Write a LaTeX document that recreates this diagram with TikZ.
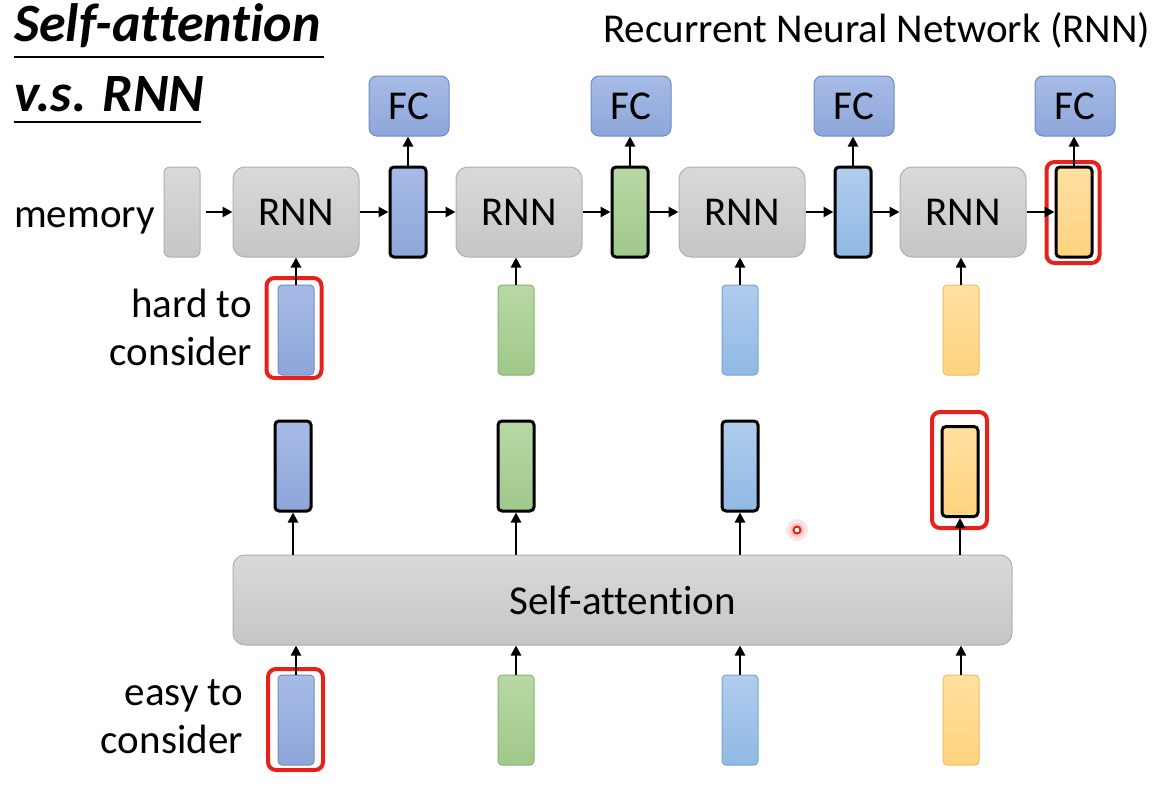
\documentclass[tikz,border=0pt]{standalone}
\usepackage{fontspec}
\setmainfont{Carlito}[Ligatures={NoCommon}]
\usetikzlibrary{arrows.meta}
\definecolor{bluT}{HTML}{A7BBE5}\definecolor{bluB}{HTML}{8DA6DA}\definecolor{bluD}{HTML}{6E8CC8}
\definecolor{grnT}{HTML}{B8D8A4}\definecolor{grnB}{HTML}{A0C88A}\definecolor{grnD}{HTML}{86B36E}
\definecolor{lbT}{HTML}{B0CDEC}\definecolor{lbB}{HTML}{90B9E5}\definecolor{lbD}{HTML}{78A3D4}
\definecolor{ylT}{HTML}{FFE0A2}\definecolor{ylB}{HTML}{FFD37E}\definecolor{ylD}{HTML}{F0BE5A}
\definecolor{gyT}{HTML}{D9D9D9}\definecolor{gyB}{HTML}{C6C6C6}\definecolor{gyD}{HTML}{B0B0B0}
\definecolor{redL}{HTML}{E8201A}
\tikzset{
  txt/.style={inner sep=0pt, font=\fontsize{41}{48}\selectfont},
  graybox/.style={shade, top color=gyT, bottom color=gyB, draw=gyD, line width=1pt, rounded corners=12pt, inner sep=0pt, font=\fontsize{41}{48}\selectfont},
  fcbox/.style={shade, top color=bluT, bottom color=bluB, draw=bluD, line width=1pt, rounded corners=8pt, minimum width=80pt, minimum height=60pt, inner sep=0pt, font=\fontsize{41}{48}\selectfont},
  vec/.style={rounded corners=4pt, minimum width=36pt, minimum height=90pt, inner sep=0pt, line width=1pt},
  vblue/.style={vec, shade, top color=bluT, bottom color=bluB, draw=bluD},
  vgreen/.style={vec, shade, top color=grnT, bottom color=grnB, draw=grnD},
  vlblue/.style={vec, shade, top color=lbT, bottom color=lbB, draw=lbD},
  vyellow/.style={vec, shade, top color=ylT, bottom color=ylB, draw=ylD},
  hid/.style={draw=black, line width=3pt},
  redbox/.style={draw=redL, line width=4pt, rounded corners=8pt, inner sep=0pt},
  arr/.style={line width=2.8pt, -{Triangle[length=10pt,width=10pt]}},
}
\begin{document}
\begin{tikzpicture}[x=1pt, y=-1pt]
\useasboundingbox (0,0) rectangle (1171,804);
% titles
\node[inner sep=0pt, anchor=base west, font=\fontsize{54}{60}\selectfont\bfseries\itshape] (t1) at (14,41) {Self-attention};
\node[inner sep=0pt, anchor=base west, font=\fontsize{54}{60}\selectfont\bfseries\itshape] (t2) at (14,111) {v.s. RNN};
\draw[line width=2pt] (14,57) -- (324,57);
\draw[line width=2pt] (14,122) -- (201,122);
\node[txt, anchor=base west] (rt) at (603,42) {Recurrent Neural Network (RNN)};
% labels
\node[txt, anchor=base west] (memlab) at (14,227) {memory};
\node[txt, anchor=base east] (hl1) at (252,317) {hard to};
\node[txt, anchor=base east] (hl2) at (252,365) {consider};
\node[txt, anchor=base east] (el1) at (243,705) {easy to};
\node[txt, anchor=base east] (el2) at (243,753) {consider};
% RNN row
\node[graybox, rounded corners=6pt, minimum width=36pt, minimum height=90pt] (mem) at (182,212) {};
\node[graybox, minimum width=126pt, minimum height=90pt] (r1) at (296,212) {RNN};
\node[graybox, minimum width=126pt, minimum height=90pt] (r2) at (519,212) {RNN};
\node[graybox, minimum width=126pt, minimum height=90pt] (r3) at (742,212) {RNN};
\node[graybox, minimum width=126pt, minimum height=90pt] (r4) at (963,212) {RNN};
\node[vblue, hid] (h1) at (408,212) {};
\node[vgreen, hid] (h2) at (630,212) {};
\node[vlblue, hid] (h3) at (853,212) {};
\node[vyellow, hid] (h4) at (1074,212) {};
\node[fcbox] (f1) at (409,106) {FC};
\node[fcbox] (f2) at (631,106) {FC};
\node[fcbox] (f3) at (854,106) {FC};
\node[fcbox] (f4) at (1075,106) {FC};
\node[vblue] (i1) at (296,330) {};
\node[vgreen] (i2) at (516,330) {};
\node[vlblue] (i3) at (740,330) {};
\node[vyellow] (i4) at (961,330) {};
\node[redbox, minimum width=55pt, minimum height=100pt] (rb1) at (294,328) {};
\node[redbox, minimum width=53pt, minimum height=101pt] (rb2) at (1073,212.5) {};
% RNN arrows
\draw[arr, shorten <=5pt] (mem) -- (r1);
\draw[arr] (r1) -- (h1);
\draw[arr] (h1) -- (r2);
\draw[arr] (r2) -- (h2);
\draw[arr] (h2) -- (r3);
\draw[arr] (r3) -- (h3);
\draw[arr] (h3) -- (r4);
\draw[arr] (r4) -- (h4);
\foreach \k in {1,2,3,4}{
  \draw[arr] (h\k.north) -- (h\k.north |- f\k.south);
  \draw[arr] (i\k.north) -- (i\k.north |- r\k.south);
}
% self-attention part
\node[graybox, minimum width=779pt, minimum height=90pt] (sa) at (622.5,600) {Self-attention};
\node[vblue, hid] (o1) at (293,466) {};
\node[vgreen, hid] (o2) at (516,466) {};
\node[vlblue, hid] (o3) at (740,466) {};
\node[vyellow, hid] (o4) at (960,471.5) {};
\node[vblue] (b1) at (296,720) {};
\node[vgreen] (b2) at (516,720) {};
\node[vlblue] (b3) at (740,720) {};
\node[vyellow] (b4) at (961,720) {};
\node[redbox, minimum width=55pt, minimum height=116pt] (rb3) at (959.5,470) {};
\node[redbox, minimum width=55pt, minimum height=101pt] (rb4) at (295.5,719.5) {};
\foreach \k in {1,2,3,4}{
  \draw[arr] (sa.north -| o\k) -- (o\k.south);
  \draw[arr] (b\k.north) -- (b\k.north |- sa.south);
}
% laser pointer dot
\fill[redL, opacity=0.12] (797,530) circle (11pt);
\fill[redL, opacity=0.15] (797,530) circle (7pt);
\draw[redL, line width=2pt, fill=white] (797,530) circle (3.5pt);
\end{tikzpicture}
\end{document}
